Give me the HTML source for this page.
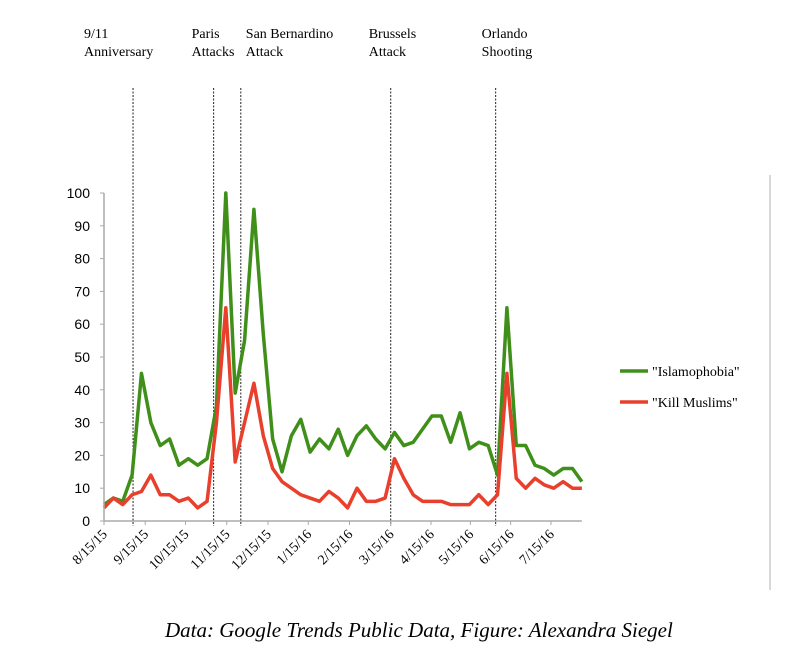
<!DOCTYPE html>
<html><head><meta charset="utf-8"><style>
body{margin:0;background:#fff;}
svg{display:block;}
</style></head><body>
<svg width="800" height="647" xmlns="http://www.w3.org/2000/svg">
<g id="grid"></g>
<g id="events"></g>
<g id="series"></g>
<g id="axes"></g>
<line x1="770" y1="175" x2="770" y2="590" stroke="#ccc" stroke-width="1.5"/>
<g font-family="Liberation Serif, serif" font-size="14">
<line x1="620" y1="371" x2="648" y2="371" stroke="#3f8f1a" stroke-width="3.5"/>
<text x="652" y="376">"Islamophobia"</text>
<line x1="620" y1="402" x2="648" y2="402" stroke="#e8402c" stroke-width="3.5"/>
<text x="652" y="407">"Kill Muslims"</text>
</g>
<text x="165" y="637" font-family="Liberation Serif, serif" font-style="italic" font-size="21">Data: Google Trends Public Data, Figure: Alexandra Siegel</text>
</svg>
<script>
const islamophobia=[5,7,6,14,45,30,23,25,17,19,17,19,35,100,39,55,95,57,25,15,26,31,21,25,22,28,20,26,29,25,22,27,23,24,28,32,32,24,33,22,24,23,14,65,23,23,17,16,14,16,16,12];
const killMuslims=[4,7,5,8,9,14,8,8,6,7,4,6,30,65,18,30,42,26,16,12,10,8,7,6,9,7,4,10,6,6,7,19,13,8,6,6,6,5,5,5,8,5,8,45,13,10,13,11,10,12,10,10];
const yTicks=[0,10,20,30,40,50,60,70,80,90,100];
const xTickLabels=["8/15/15","9/15/15","10/15/15","11/15/15","12/15/15","1/15/16","2/15/16","3/15/16","4/15/16","5/15/16","6/15/16","7/15/16"];
const xTickIndex=[0,4.4,8.7,13.1,17.5,21.8,26.2,30.6,34.9,39.1,43.4,47.7];
const eventLabels=[["9/11","Anniversary"],["Paris","Attacks"],["San Bernardino","Attack"],["Brussels","Attack"],["Orlando","Shooting"]];
const eventIndex=[3.1,11.7,14.6,30.6,41.8];
const NS="http://www.w3.org/2000/svg";
const x0=104,dx=9.37,y0=521,yScale=3.28;
const X=i=>x0+i*dx, Y=v=>y0-v*yScale;
function mk(tag,attrs,parent,text){const e=document.createElementNS(NS,tag);for(const k in attrs)e.setAttribute(k,attrs[k]);if(text!==undefined)e.textContent=text;parent.appendChild(e);return e;}
const axes=document.getElementById('axes'),series=document.getElementById('series'),events=document.getElementById('events');
const ya=mk('line',{x1:x0,y1:Y(100),x2:x0,y2:y0,stroke:'#aaa','stroke-width':1.5},axes);


const xa=mk('line',{x1:x0,y1:y0,x2:X(51),y2:y0,stroke:'#aaa','stroke-width':1.5},axes);


yTicks.forEach(v=>{
  mk('line',{x1:x0-4,y1:Y(v),x2:x0,y2:Y(v),stroke:'#aaa'},axes);
  const t=mk('text',{x:x0-14,y:Y(v)+5,'text-anchor':'end','font-family':'Liberation Sans, sans-serif','font-size':14},axes,v);
  
  
});
xTickLabels.forEach((l,k)=>{
  const x=X(xTickIndex[k]);
  mk('line',{x1:x,y1:y0,x2:x,y2:y0+4,stroke:'#aaa'},axes);
  const t=mk('text',{x:x+4,y:y0+14,'text-anchor':'end','font-family':'Liberation Serif, serif','font-size':14,transform:`rotate(-45 ${x+4} ${y0+14})`},axes,l);
  
  
});
eventIndex.forEach((ei,k)=>{
  const x=X(ei);
  const ln=mk('line',{x1:x,y1:88,x2:x,y2:y0+5,stroke:'#222','stroke-width':1,'stroke-dasharray':'2,1.5'},events);
  
  
  const t=mk('text',{x:x-52+(k==1?30:k==2?57:k==0?3:k==3?30:38),y:38,'font-family':'Liberation Serif, serif','font-size':14},events);
  
  
  eventLabels[k].forEach((s,j)=>mk('tspan',{x:t.getAttribute('x'),dy:j?18:0},t,s));
});
function line(vals,color,name){
  const p=mk('polyline',{points:vals.map((v,i)=>X(i)+','+Y(v)).join(' '),fill:'none',stroke:color,'stroke-width':3.5,'stroke-linejoin':'round'},series);
  
  
}
line(islamophobia,'#3f8f1a','islamophobia-line');
line(killMuslims,'#e8402c','kill-muslims-line');
</script>
</body></html>
